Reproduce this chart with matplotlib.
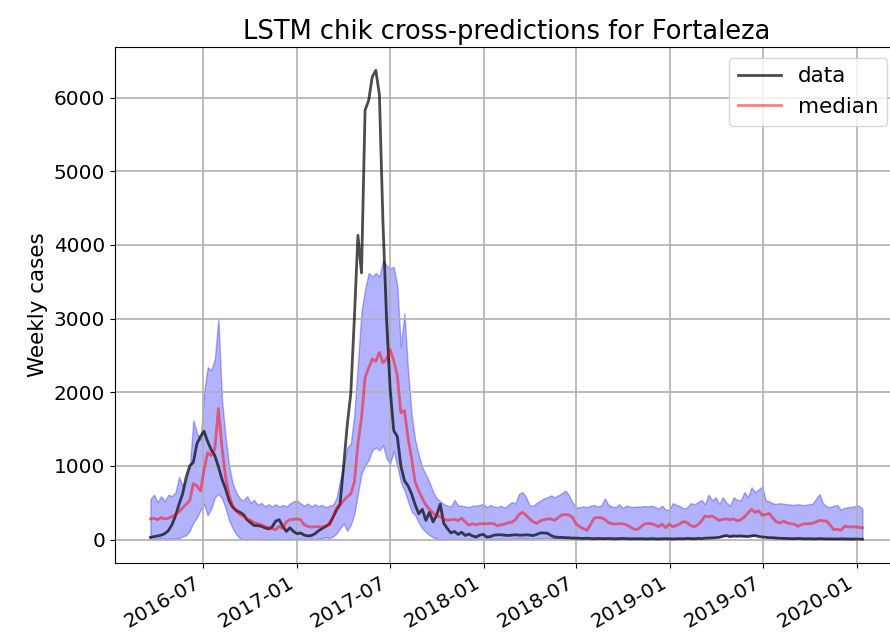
import matplotlib
matplotlib.use('Agg')
import matplotlib.pyplot as plt
import pandas as pd

# weekly dates (epi weeks, starting on Sunday)
dates = pd.date_range('2016-03-20', periods=200, freq='W-SUN')

# observed weekly cases
data = [30, 40, 50, 60, 80, 120, 200, 320, 480, 620,
        850, 1000, 1050, 1300, 1400, 1470, 1330, 1220, 1140, 990,
        820, 690, 530, 440, 395, 370, 340, 270, 230, 190,
        190, 180, 160, 145, 170, 250, 270, 180, 110, 160,
        110, 80, 90, 60, 50, 55, 80, 120, 150, 180,
        210, 300, 400, 480, 1000, 1550, 1980, 3000, 4130, 3620,
        5830, 5960, 6280, 6370, 6040, 4300, 3000, 2050, 1480, 1400,
        1000, 800, 730, 620, 470, 350, 410, 260, 370, 240,
        330, 480, 220, 150, 90, 110, 70, 100, 55, 75,
        50, 35, 60, 70, 35, 40, 60, 65, 65, 60,
        55, 60, 65, 60, 60, 65, 60, 55, 70, 90,
        90, 85, 55, 35, 30, 30, 25, 25, 20, 20,
        18, 15, 18, 15, 12, 15, 14, 12, 15, 12,
        10, 12, 15, 12, 10, 12, 10, 12, 10, 10,
        12, 10, 8, 10, 12, 10, 8, 10, 12, 10,
        15, 12, 10, 15, 12, 18, 20, 22, 25, 30,
        45, 55, 40, 50, 45, 50, 45, 40, 50, 55,
        40, 35, 30, 25, 25, 20, 18, 15, 15, 12,
        12, 15, 12, 10, 12, 10, 10, 12, 10, 8,
        10, 8, 8, 10, 8, 8, 6, 8, 6, 5]

# median of the predictions
median = [280, 290, 270, 300, 280, 290, 310, 340, 380, 430,
          480, 530, 760, 730, 660, 950, 1180, 1140, 1230, 1780,
          1250, 850, 600, 450, 390, 340, 320, 280, 260, 230,
          215, 200, 180, 160, 145, 135, 180, 150, 240, 270,
          275, 280, 270, 200, 180, 170, 175, 175, 170, 180,
          200, 300, 420, 470, 530, 580, 620, 780, 1300, 1650,
          2200, 2330, 2450, 2420, 2540, 2400, 2450, 2580, 2430, 2230,
          1720, 1750, 1380, 1100, 780, 660, 560, 470, 410, 360,
          320, 310, 280, 260, 270, 275, 260, 290, 240, 195,
          215, 200, 215, 215, 215, 220, 215, 185, 200, 210,
          230, 235, 270, 340, 370, 330, 280, 240, 220, 255,
          270, 280, 280, 260, 300, 335, 340, 335, 300, 210,
          175, 150, 125, 200, 290, 300, 295, 275, 230, 215,
          210, 215, 215, 200, 175, 145, 135, 170, 210, 220,
          215, 200, 175, 210, 160, 210, 175, 190, 215, 245,
          230, 190, 175, 200, 250, 320, 310, 320, 290, 260,
          275, 280, 270, 280, 255, 270, 305, 360, 410, 370,
          390, 330, 340, 355, 290, 240, 225, 250, 225, 215,
          210, 180, 205, 215, 215, 220, 240, 260, 255, 250,
          195, 135, 140, 125, 180, 175, 170, 175, 165, 160]

# upper / lower prediction band
upper = [550, 610, 510, 590, 520, 610, 590, 640, 850, 730,
         800, 990, 1620, 1450, 1350, 2000, 2340, 2300, 2450, 3000,
         1900, 1400, 1000, 760, 640, 560, 530, 590, 500, 540,
         470, 500, 450, 480, 450, 480, 450, 470, 450, 490,
         520, 530, 490, 460, 490, 450, 480, 450, 470, 440,
         460, 470, 560, 800, 1000, 1250, 1300, 1700, 2400, 3100,
         3400, 3620, 3570, 3620, 3570, 3790, 3720, 3680, 3700, 3450,
         2620, 3070, 2300, 1700, 1350, 1150, 980, 880, 780, 650,
         560, 520, 480, 460, 450, 540, 460, 460, 450, 440,
         460, 460, 470, 485, 440, 470, 450, 440, 460, 430,
         470, 510, 490, 620, 645, 575, 460, 460, 500, 530,
         560, 575, 600, 575, 600, 630, 665, 600, 500, 440,
         440, 450, 440, 460, 470, 450, 460, 560, 470, 450,
         440, 480, 430, 460, 450, 440, 450, 445, 455, 450,
         460, 445, 420, 460, 405, 405, 495, 470, 455, 420,
         440, 495, 480, 505, 540, 480, 610, 530, 575, 485,
         575, 500, 460, 575, 540, 530, 645, 575, 710, 645,
         680, 720, 530, 520, 490, 485, 495, 485, 480, 475,
         470, 480, 470, 470, 480, 485, 550, 620, 490, 450,
         440, 460, 470, 405, 430, 440, 445, 455, 460, 420]

lower = [0, 10, 5, 20, 10, 5, 15, 10, 20, 40,
         60, 120, 230, 300, 400, 480, 330, 420, 570, 620,
         560, 430, 260, 150, 70, 20, 0, 5, 10, 0,
         5, 10, 5, 0, 5, 10, 5, 5, 0, 10,
         5, 5, 10, 0, 5, 10, 5, 10, 20, 30,
         20, 40, 80, 150, 220, 120, 200, 350, 620, 900,
         1000, 1080, 1210, 1250, 1210, 1280, 1100, 1030, 1200, 1000,
         780, 665, 520, 380, 330, 230, 150, 100, 60, 30,
         10, 5, 0, 5, 10, 0, 5, 10, 5, 0,
         5, 10, 5, 5, 10, 5, 0, 5, 10, 5,
         5, 10, 15, 20, 20, 15, 10, 10, 15, 20,
         20, 25, 20, 15, 15, 20, 15, 10, 10, 5,
         5, 5, 5, 0, 5, 5, 10, 5, 5, 5,
         0, 5, 5, 5, 0, 5, 5, 5, 5, 0,
         5, 5, 5, 5, 0, 5, 5, 10, 5, 10,
         15, 20, 20, 25, 30, 35, 30, 30, 35, 40,
         45, 50, 40, 45, 50, 40, 45, 55, 50, 60,
         55, 45, 35, 30, 25, 20, 15, 15, 10, 10,
         10, 10, 5, 5, 10, 5, 5, 10, 5, 5,
         5, 5, 5, 0, 5, 5, 0, 5, 5, 5]

plt.rcParams['font.size'] = 14.4

fig = plt.figure(figsize=(8.9, 6.42), dpi=100)
# axes runs a bit past the right edge, like the cropped original
ax = fig.add_axes([0.129, 0.123, 0.88, 0.804])

ax.plot(dates, data, 'k-', alpha=0.7, lw=2, label='data')
ax.plot(dates, median, 'r-', alpha=0.5, lw=2, label='median')
ax.fill_between(dates, lower, upper, color='b', alpha=0.3)

ax.set_title('LSTM chik cross-predictions for Fortaleza', fontsize=18.5)
ax.set_ylabel('Weekly cases', fontsize=15.5)
ax.tick_params(labelsize=14.4)
ax.grid(True, color='#b0b0b0', lw=1.2)
ax.legend(loc='upper right', fontsize=15.5)

for lbl in ax.get_xticklabels():
    lbl.set_rotation(30)
    lbl.set_ha('right')

fig.savefig('out.png', dpi=100)
